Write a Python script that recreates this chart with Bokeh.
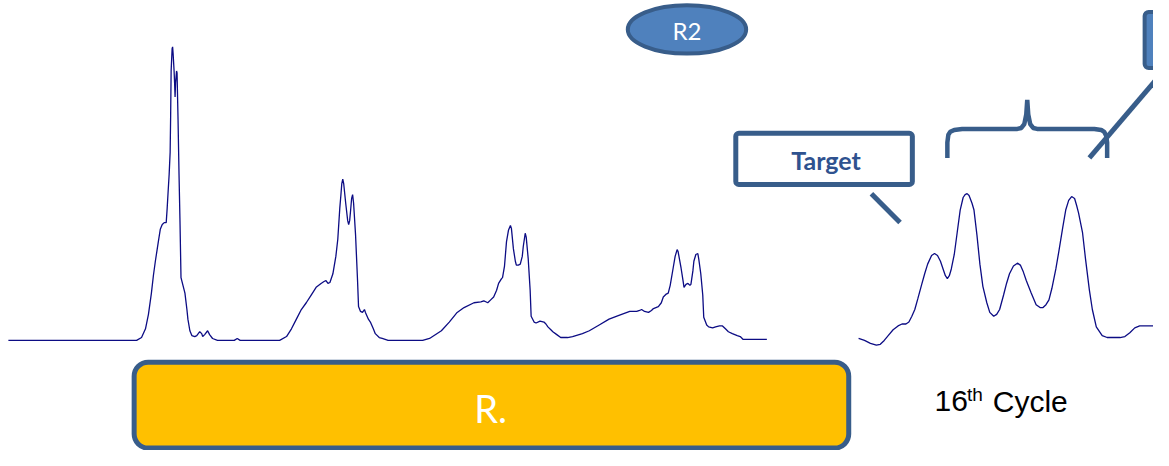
from bokeh.plotting import figure
from bokeh.models import Range1d, BoxAnnotation
from bokeh.core.properties import value
from bokeh.embed import file_html
from bokeh.resources import INLINE

# ---- data: chromatogram traces (retention position, signal) ----
time_full = [8, 138, 143, 147, 150, 153, 155, 157, 160, 162, 164, 166, 168, 169, 170, 171, 172, 172.5, 173, 174,
             174.5, 175, 176, 176.5, 177, 177.5, 178.5, 179, 180, 181, 182, 183, 185, 187, 189, 190, 192, 194, 197,
             199, 202, 204, 205, 207, 210, 212, 215, 220, 237, 240, 243, 283, 290, 295, 300, 305, 310, 315, 320,
             325, 328, 330, 332, 334, 337, 340, 342, 344, 345, 346, 347, 348, 350, 352, 353, 354, 355, 356, 357,
             358, 360, 362, 363, 365, 367, 369, 370, 373, 375, 378, 380, 384, 387, 393, 428, 435, 447, 455, 463,
             470, 480, 487, 490, 492, 494, 497, 500, 503, 505, 508, 509, 511, 513, 515, 517, 518, 520, 522, 523,
             525, 527, 529, 530, 532, 533, 535, 537, 538, 541, 543, 547, 551, 553, 555, 558, 560, 564, 568, 575,
             580, 590, 597, 607, 617, 627, 638, 645, 648, 650, 653, 657, 660, 662, 667, 670, 672, 675, 677, 679,
             682, 684, 686, 687, 690, 692, 693, 695, 697, 699, 700, 702, 703, 705, 707, 708, 710, 712, 713, 716,
             718, 722, 725, 729, 732, 735, 738, 742, 747, 750, 753, 777]
signal_full = [0, 0, 3, 12, 27, 49, 67, 82, 102, 115, 120, 122, 122, 137, 155, 172, 195, 232, 279, 302,
               304, 297, 279, 267, 252, 267, 279, 277, 229, 172, 122, 65, 57, 49, 32, 22, 10, 5, 4,
               5, 9, 7, 4, 6, 10, 6, 2, 0, 0, 2, 0, 0, 4, 12, 22, 32, 39, 47, 55,
               59, 61, 62, 59, 60, 69, 87, 105, 137, 149, 162, 167, 162, 142, 124, 120, 124, 135, 147, 151,
               142, 109, 62, 35, 30, 29, 32, 29, 22, 19, 12, 7, 3, 2, 0, 0, 2, 10, 19, 29,
               34, 39, 40, 41, 40, 39, 42, 45, 52, 59, 64, 65, 77, 102, 114, 119, 116, 95, 82, 78,
               78, 79, 87, 97, 111, 107, 85, 52, 25, 19, 18, 20, 19, 17, 14, 11, 9, 6, 3, 3,
               4, 7, 10, 16, 22, 26, 30, 30, 31, 32, 30, 29, 31, 33, 35, 39, 45, 48, 49, 57,
               75, 87, 94, 92, 75, 62, 55, 58, 59, 57, 58, 72, 82, 89, 90, 84, 69, 47, 24, 16,
               14, 13, 14, 15, 15, 12, 9, 7, 5, 4, 1, 1]

time_16th = [870, 876, 882, 888, 892, 896, 900, 905, 910, 914, 918, 921, 924, 927, 930, 934, 937, 940, 944, 947,
             950, 953, 956, 958, 960, 962, 964, 967, 970, 973, 976, 978, 980, 982, 985, 987, 990, 993, 996, 1000,
             1003, 1007, 1010, 1013, 1017, 1020, 1023, 1027, 1031, 1034, 1037, 1040, 1045, 1050, 1054, 1057,
             1060, 1063, 1066, 1070, 1073, 1077, 1080, 1083, 1086, 1089, 1091, 1093, 1097, 1100, 1104, 1107,
             1111, 1117, 1122, 1127, 1135, 1140, 1145, 1150, 1155, 1162, 1169]
signal_16th = [2, 0, -3, -5, -4, 0, 5, 11, 15, 17, 17, 19, 25, 32, 43, 58, 69, 79, 88, 90,
               88, 82, 73, 67, 64, 67, 74, 89, 112, 135, 148, 151, 152, 150, 142, 135, 109, 79, 56, 39,
               29, 25, 27, 32, 47, 59, 69, 77, 80, 78, 71, 62, 49, 37, 34, 34,
               37, 42, 54, 74, 92, 117, 135, 145, 149, 147, 140, 132, 112, 85, 52, 32,
               14, 5, 3, 3, 3, 4, 8, 13, 15, 15, 15]

labels = {"oval": "R2", "target": "Target", "bar": "R.", "cycle_num": "16", "cycle_sup": "th", "cycle": "Cycle"}

DARK = "#385D8A"
MID = "#4F81BD"
TRACE = "#0C0C84"

p = figure(width=1153, height=450, x_range=Range1d(0, 1169), y_range=Range1d(-114, 352),
           output_backend="svg", toolbar_location=None, x_axis_type=None, y_axis_type=None,
           min_border=0, background_fill_color="white", border_fill_color="white")
p.outline_line_color = None
p.grid.visible = False

# boxes (drawn underneath glyphs so their labels stay visible)
p.add_layout(BoxAnnotation(left=745.5, right=924.5, top=214.5, bottom=161.5, fill_color="white", fill_alpha=1,
                           line_color=DARK, line_width=5, line_alpha=1, border_radius=3, level="underlay"))
p.add_layout(BoxAnnotation(left=1160, right=1230, top=340, bottom=282, fill_color=MID, fill_alpha=1,
                           line_color=DARK, line_width=4, line_alpha=1, border_radius=4, level="underlay"))
p.add_layout(BoxAnnotation(left=135.5, right=860, top=-22.5, bottom=-111.5, fill_color="#FFC000", fill_alpha=1,
                           line_color=DARK, line_width=5, line_alpha=1, border_radius=14, level="underlay"))

# traces
p.line(time_full, signal_full, line_color=TRACE, line_width=1.3)
p.line(time_16th, signal_16th, line_color=TRACE, line_width=1.3)

# R2 oval
p.ellipse(x=[696], y=[322], width=[120], height=[50], fill_color=MID, line_color=DARK, line_width=4)
p.text(x=[696], y=[321], text=[labels["oval"]], text_align="center", text_baseline="middle",
       text_font=value("Lato"), text_font_size="24px", text_color="white")

# Target label and pointer
p.text(x=[837], y=[187], text=[labels["target"]], text_align="center", text_baseline="middle",
       text_font=value("Lato"), text_font_style="bold", text_font_size="25px", text_color="#2F528F")
p.segment(x0=[883], y0=[152], x1=[912], y1=[122], line_color=DARK, line_width=5)

# brace
bx = [960, 960, 961, 963, 967, 975, 1031, 1035, 1038, 1040, 1041, 1042, 1044, 1047, 1051,
      1109, 1116, 1119, 1121, 1122, 1122]
by = [189, 205, 213, 216, 218, 219, 219, 220, 224, 234, 249, 234, 224, 220, 219,
      219, 218, 216, 212, 205, 189]
p.line(bx, by, line_color=DARK, line_width=4.5)
p.segment(x0=[1104], y0=[189], x1=[1190], y1=[292], line_color=DARK, line_width=5)

# yellow bar label
p.text(x=[497], y=[-70], text=[labels["bar"]], text_align="center", text_baseline="middle",
       text_font=value("Lato"), text_font_size="38px", text_color="white")

# 16th Cycle
p.text(x=[947], y=[-63], text=[labels["cycle_num"]], text_align="left", text_baseline="middle",
       text_font=value("Liberation Sans"), text_font_size="30px", text_color="black")
p.text(x=[980], y=[-56], text=[labels["cycle_sup"]], text_align="left", text_baseline="middle",
       text_font=value("Liberation Sans"), text_font_size="19px", text_color="black")
p.text(x=[1006], y=[-63], text=[labels["cycle"]], text_align="left", text_baseline="middle",
       text_font=value("Liberation Sans"), text_font_size="30px", text_color="black")

open("out.html", "w").write(file_html(p, INLINE))
